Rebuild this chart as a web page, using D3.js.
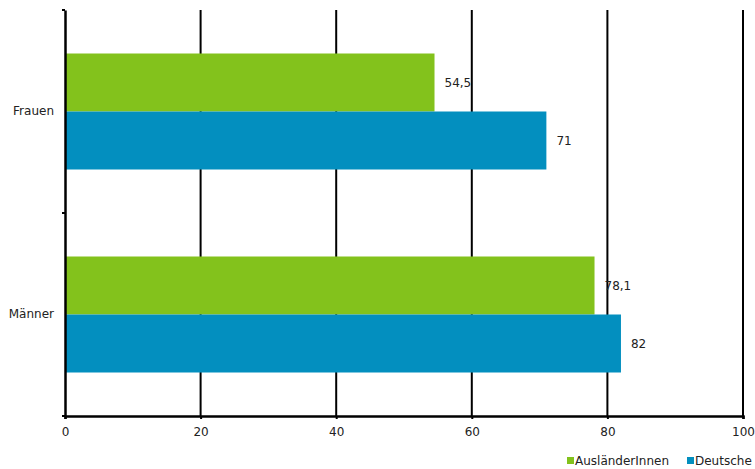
<!DOCTYPE html>
<html>
<head>
<meta charset="utf-8">
<script src="https://cdn.jsdelivr.net/npm/d3@7/dist/d3.min.js"></script>
<style>
  body { margin: 0; background: #fff; }
  svg text { font-family: "DejaVu Sans", sans-serif; font-size: 12px; fill: #222; }
</style>
</head>
<body>
<svg id="chart" width="755" height="469"></svg>
<script>
const categories = ["Frauen", "Männer"];
const seriesNames = ["AusländerInnen", "Deutsche"];
const auslaenderValues = [54.5, 78.1];
const deutscheValues = [71, 82];
const xTicks = [0, 20, 40, 60, 80, 100];
const colors = ["#83c21c", "#038fbf"];

const svg = d3.select("#chart");
const margin = { left: 65, right: 12, top: 10, bottom: 53 };

const x = d3.scaleLinear().domain([0, 100]).range([margin.left, 743]);
const y = d3.scaleBand().domain(categories).range([margin.top, 416]).paddingInner(0).paddingOuter(0);
const inner = d3.scaleBand().domain(seriesNames).range([0, y.bandwidth()]).paddingInner(0).paddingOuter(0.75);

const fmt = v => String(v).replace(".", ",");

// vertical gridlines
svg.append("g").selectAll("line").data(xTicks.slice(1)).join("line")
  .attr("x1", d => x(d)).attr("x2", d => x(d))
  .attr("y1", margin.top).attr("y2", 416)
  .attr("stroke", "#000").attr("stroke-width", 2);

// bars with value labels
const series = [auslaenderValues, deutscheValues];
series.forEach((vals, si) => {
  svg.append("g").selectAll("rect").data(categories).join("rect")
    .attr("x", x(0) + 1)
    .attr("y", c => y(c) + inner(seriesNames[si]))
    .attr("width", (c, i) => x(vals[i]) - x(0) - 1)
    .attr("height", inner.bandwidth())
    .attr("fill", colors[si]);
  svg.append("g").selectAll("text").data(categories).join("text")
    .attr("x", (c, i) => x(vals[i]) + 10)
    .attr("y", c => y(c) + inner(seriesNames[si]) + inner.bandwidth() / 2)
    .attr("dy", "0.35em")
    .text((c, i) => fmt(vals[i]));
});

// x axis
const xAxis = svg.append("g").attr("transform", "translate(0,416)")
  .call(d3.axisBottom(x).tickValues(xTicks).tickSize(3).tickPadding(8).tickFormat(d3.format("d")));
xAxis.select(".domain").attr("stroke", "#000").attr("stroke-width", 2.5);
xAxis.selectAll(".tick line").attr("stroke", "#000").attr("stroke-width", 2);
xAxis.selectAll("text").style("font-family", "DejaVu Sans, sans-serif").style("font-size", "12px").attr("fill", "#222");

// y axis
const yAxis = svg.append("g").attr("transform", `translate(${x(0)},0)`)
  .call(d3.axisLeft(y).tickSize(0).tickPadding(11));
yAxis.select(".domain").attr("stroke", "#000").attr("stroke-width", 2.5);
yAxis.selectAll("text").style("font-family", "DejaVu Sans, sans-serif").style("font-size", "12px").attr("fill", "#222");
// category boundary ticks
const bounds = [margin.top, y("Männer"), 416];
yAxis.append("g").selectAll("line").data(bounds).join("line")
  .attr("x1", -3).attr("x2", 0).attr("y1", d => d).attr("y2", d => d)
  .attr("stroke", "#000").attr("stroke-width", 2);

// legend
const legend = svg.append("g").attr("transform", "translate(567,461)");
const legendItems = [{ name: seriesNames[0], color: colors[0], dx: 0 }, { name: seriesNames[1], color: colors[1], dx: 120 }];
legendItems.forEach(it => {
  const g = legend.append("g").attr("transform", `translate(${it.dx},0)`);
  g.append("rect").attr("x", 0).attr("y", -4).attr("width", 7).attr("height", 7).attr("fill", it.color);
  g.append("text").attr("x", 8).attr("y", 0).attr("dy", "0.35em").text(it.name);
});
</script>
</body>
</html>
